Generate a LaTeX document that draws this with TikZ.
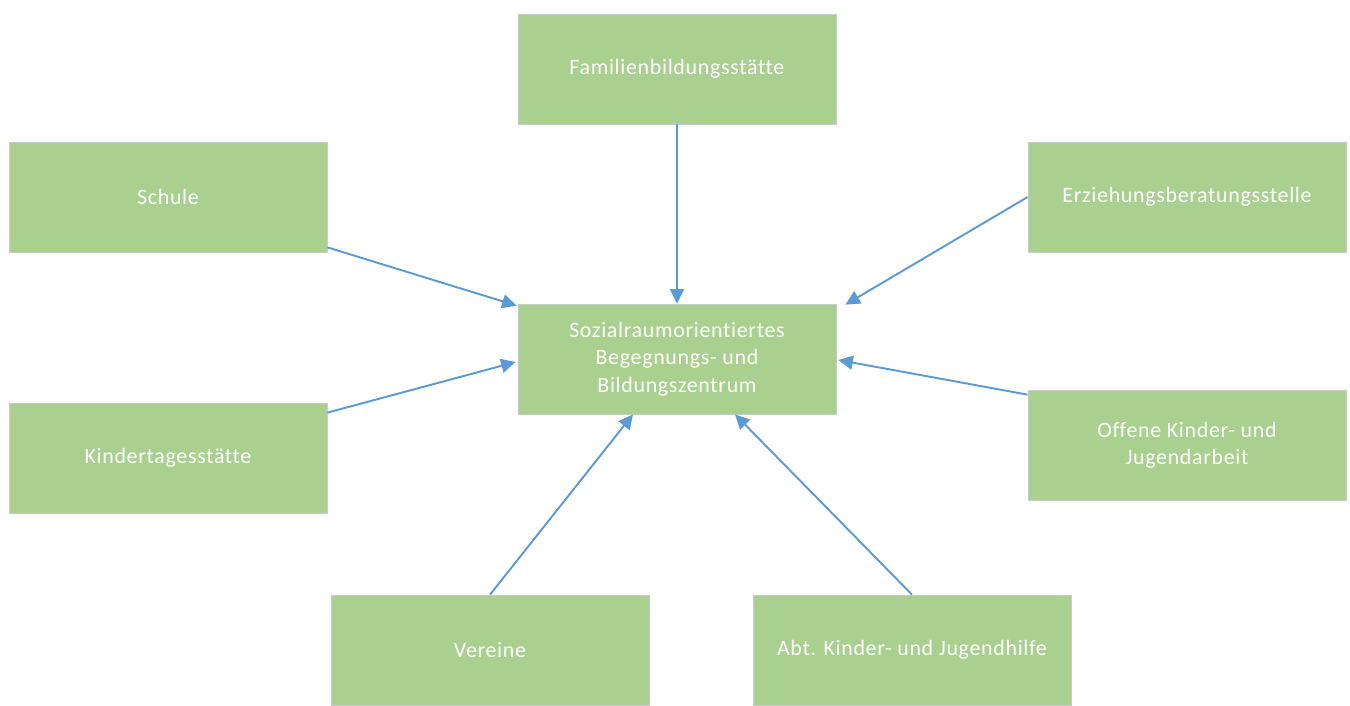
\documentclass[tikz,border=0pt]{standalone}
\usepackage{fontspec}
\setmainfont{Carlito}[Ligatures=NoCommon,LetterSpace=3]
\usepackage{tikz}
\usetikzlibrary{positioning,arrows.meta,calc}
\definecolor{BoxGreen}{HTML}{A9D08E}
\definecolor{BoxEdge}{HTML}{C8CCD0}
\definecolor{LinkBlue}{HTML}{5B9BD5}

\begin{document}
\begin{tikzpicture}[
  x=0.2mm,y=-0.2mm,
  inst/.style={draw=BoxEdge,line width=0.4pt,fill=BoxGreen,text=white,
               align=center,minimum width=6.36cm,minimum height=2.2cm,
               inner sep=3pt,font=\fontsize{12.5}{15.6}\selectfont},
  link/.style={-{Triangle[length=2.9mm,width=2.8mm]},line width=1.1pt,draw=LinkBlue}
]
\useasboundingbox (0,0) rectangle (1350,705);

% Zentrum in der Mitte
\node[inst] (zentrum) at (677,359)
  {Sozialraumorientiertes\\Begegnungs- und\\Bildungszentrum};

% Partner rundherum
\node[inst] (fbs) at (677,69) {Familienbildungsstätte};
\node[inst] (schule) at (168,197) {Schule};
\node[inst] (eb) at (1187,197) {Erziehungsberatungsstelle};
\node[inst] (kita) at (168,458) {Kindertagesstätte};
\node[inst] (okja) at (1187,445) {Offene Kinder- und\\Jugendarbeit};
\node[inst] (vereine) at (490,650) {Vereine};
\node[inst] (abt) at (912,650) {Abt. Kinder- und Jugendhilfe};

% Verbindungen zum Zentrum
\draw[link] (fbs) -- (zentrum);
\draw[link] ($(schule.south east)+(0,-5)$) -- ($(zentrum.north west)+(-1,2)$);
\draw[link] (eb.west) -- ($(zentrum.north east)+(9,1)$);
\draw[link] ($(kita.north east)+(0,10)$) -- ($(zentrum.west)+(-2,3)$);
\draw[link] ($(okja.north west)+(0,5)$) -- ($(zentrum.east)+(2,1)$);
\draw[link] (vereine.north) -- ($(zentrum.south)+(-44,0)$);
\draw[link] (abt.north) -- ($(zentrum.south)+(58,0)$);
\end{tikzpicture}
\end{document}
